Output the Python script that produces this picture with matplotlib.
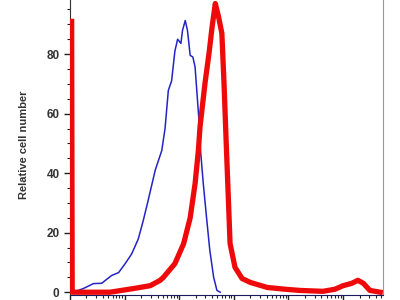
import matplotlib
matplotlib.use("Agg")
import matplotlib.pyplot as plt
import numpy as np
from matplotlib.ticker import LogLocator, MultipleLocator, NullFormatter

# fluorescence channel (log10 decades) and relative cell number
blue_log = [0.06, 0.24, 0.43, 0.58, 0.76, 0.89, 1.01, 1.13, 1.25, 1.34, 1.43, 1.56,
            1.68, 1.74, 1.80, 1.86, 1.92, 1.97, 2.03, 2.06, 2.11, 2.15, 2.20, 2.25,
            2.29, 2.33, 2.37, 2.39, 2.44, 2.50, 2.56, 2.63, 2.69, 2.75]
blue_cnt = [0, 1.2, 2.9, 3, 5.6, 6.6, 9.6, 12.9, 17.9, 24, 30.8, 41,
            47.6, 55, 67.8, 71, 81, 85, 83.6, 88, 91.3, 88, 79.6, 79,
            75.6, 65.5, 55.5, 47.6, 36.5, 25, 14, 5, 0.6, 0]

red_log = [0.03, 0.04, 0.18, 0.73, 1.15, 1.47, 1.65, 1.71, 1.92, 2.08, 2.20, 2.29,
           2.35, 2.38, 2.47, 2.55, 2.60, 2.66, 2.72, 2.78, 2.82, 2.86, 2.90, 2.93,
           3.02, 3.15, 3.30, 3.61, 3.94, 4.21, 4.63, 4.85, 5.00, 5.16, 5.27, 5.37,
           5.49, 5.68]
red_cnt = [91, 0, 0, 0, 1.2, 2.2, 4, 5, 9.6, 16.3, 25, 36.5,
           47.6, 55.5, 70, 81, 89, 97, 92.5, 87, 70, 50, 31, 16.4,
           8.4, 4.6, 3.3, 1.6, 1.0, 0.6, 0.3, 1.0, 2.2, 3, 4, 3,
           0.6, 0]

fig = plt.figure(figsize=(4, 3), dpi=100)
ax = fig.add_axes([0.175, 0.018, 0.7825, 1.0])

ax.plot(10 ** np.array(blue_log), blue_cnt, color="#2424c4", lw=1.1, zorder=3)
ax.plot(10 ** np.array(red_log), red_cnt, color="#ee0a0a", lw=3.8, zorder=4,
        solid_joinstyle="round")

ax.set_xscale("log")
ax.set_xlim(1, 10 ** 5.73)
ax.set_ylim(-0.8, 100)

ax.xaxis.set_major_locator(LogLocator(base=10, numticks=10))
ax.xaxis.set_minor_locator(LogLocator(base=10, subs=np.arange(2, 10), numticks=10))
ax.xaxis.set_major_formatter(NullFormatter())
ax.xaxis.set_minor_formatter(NullFormatter())
ax.yaxis.set_major_locator(MultipleLocator(20))
ax.yaxis.set_minor_locator(MultipleLocator(5))

ax.tick_params(axis="both", which="major", length=4, width=1, color="#222222")
ax.tick_params(axis="both", which="minor", length=2.5, width=0.8, color="#222222")
for lab in ax.get_yticklabels():
    lab.set_fontfamily("Liberation Sans")
    lab.set_fontweight("bold")
    lab.set_fontsize(8.5)
    lab.set_color("#333333")

ax.set_ylabel("Relative cell number", fontfamily="Liberation Sans",
              fontweight="bold", fontsize=8, color="#333333", labelpad=8)

ax.spines["top"].set_visible(False)
ax.spines["right"].set_color("#999999")
ax.spines["bottom"].set_color("#1a1a60")
ax.spines["left"].set_color("#333333")

fig.savefig("out.png", dpi=100)
